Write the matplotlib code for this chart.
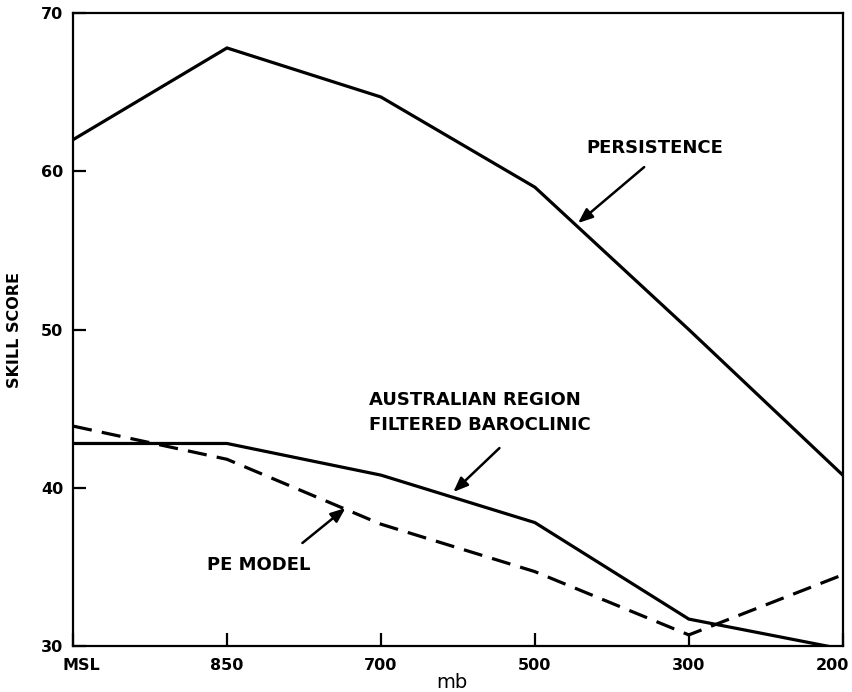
import numpy as np
import matplotlib
matplotlib.use('Agg')
import matplotlib.pyplot as plt
import matplotlib.transforms as mtransforms

# Pressure levels along the x axis (equally spaced)
levels = ['MSL', '850', '700', '500', '300', '200']

# Skill scores
persistence = [62.0, 67.8, 64.7, 59.0, 50.0, 40.8]
filtered_baroclinic = [42.8, 42.8, 40.8, 37.8, 31.7, 29.8]
pe_model = [43.9, 41.8, 37.7, 34.7, 30.7, 34.5]

x = np.arange(len(levels))

fig = plt.figure(figsize=(8.53, 6.92), dpi=100)
ax = fig.add_axes([0.0856, 0.0665, 0.9024, 0.9145])

line_kw = dict(color='black', linewidth=2.3, solid_joinstyle='miter')
ax.plot(x, persistence, **line_kw)
ax.plot(x, filtered_baroclinic, **line_kw)
ax.plot(x, pe_model, linestyle=(0, (6, 3.2)), **line_kw)

ax.set_xlim(0, 5)
ax.set_ylim(30, 70)

for side in ['left', 'right', 'top', 'bottom']:
    ax.spines[side].set_linewidth(1.6)

ax.set_xticks(x)
ax.set_xticklabels(levels)
ax.set_yticks([30, 40, 50, 60, 70])
ax.tick_params(axis='both', direction='in', length=9.5, width=1.6,
               labelsize=11.5)
ax.tick_params(axis='x', pad=9)
ax.tick_params(axis='y', pad=7)
for lbl in ax.get_xticklabels() + ax.get_yticklabels():
    lbl.set_fontweight('bold')

# nudge the end labels inward like the original
xlbls = ax.get_xticklabels()
xlbls[0].set_transform(xlbls[0].get_transform() +
                       mtransforms.ScaledTranslation(8 / 100, 0, fig.dpi_scale_trans))
xlbls[-1].set_transform(xlbls[-1].get_transform() +
                        mtransforms.ScaledTranslation(-10 / 100, 0, fig.dpi_scale_trans))

fig.text(15 / 853, 1 - 330 / 692, 'SKILL SCORE', rotation=90, ha='center',
         va='center', fontsize=11.5, fontweight='bold')
fig.text(452 / 853, 1 - 683 / 692, 'mb', ha='center', va='center',
         fontsize=14, family=['Liberation Sans Narrow', 'DejaVu Sans'])

arrow_kw = dict(arrowstyle='-|>,head_length=0.55,head_width=0.22',
                color='black', lw=1.8, mutation_scale=16,
                shrinkA=0, shrinkB=0)
text_kw = dict(fontsize=13, fontweight='bold')

ax.text(3.78, 61.47, 'PERSISTENCE', ha='center', va='center', **text_kw)
ax.annotate('', xy=(3.28, 56.73), xytext=(3.71, 60.27), arrowprops=arrow_kw)

ax.text(1.92, 44.75, 'AUSTRALIAN REGION\nFILTERED BAROCLINIC', ha='left',
        va='center', linespacing=1.45, **text_kw)
ax.annotate('', xy=(2.47, 39.73), xytext=(2.77, 42.51), arrowprops=arrow_kw)

ax.text(0.87, 35.12, 'PE MODEL', ha='left', va='center', **text_kw)
ax.annotate('', xy=(1.77, 38.72), xytext=(1.49, 36.51), arrowprops=arrow_kw)

plt.savefig('out.png', dpi=100)
